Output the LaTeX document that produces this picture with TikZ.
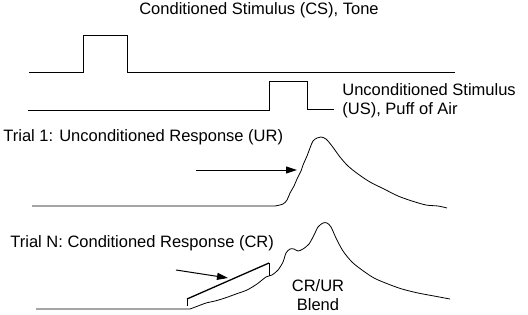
\documentclass[tikz,border=0pt]{standalone}
\usepackage{fontspec}
\setmainfont{Liberation Sans}
\usetikzlibrary{arrows.meta}

\begin{document}
\begin{tikzpicture}[x=1pt,y=-1pt,line width=0.8pt,
  lbl/.style={inner sep=0pt,font=\fontsize{16.5}{19}\selectfont},
  pointer/.style={-{Triangle[length=11pt,width=7pt]},line width=1pt}]
  \useasboundingbox (0,0) rectangle (528,314);
  % stimulus traces
  \node[lbl] (cstitle) at (259,10) {Conditioned Stimulus (CS), Tone};
  \draw (29,72) -- (83,72) -- (83,35) -- (127,35) -- (127,72) -- (455,72);
  \draw (28,110) -- (269,110) -- (269,81) -- (307,81) -- (307,109) -- (334,109);
  \node[lbl,anchor=west,align=left] (ustitle) at (342,101)
    {Unconditioned Stimulus\\(US), Puff of Air};
  % trial 1
  \node[lbl,anchor=west] (trialone) at (3,137) {Trial 1: Unconditioned Response (UR)};
  \draw (32,206) -- (275,206)
    plot[smooth,tension=0.5] coordinates {(275,206) (283,204) (287,200) (290,193)
      (294,186) (297,179) (301,171) (303,165) (307,156) (310,148) (313,141)
      (317,138) (321,137) (326,139) (332,146) (340,157) (348,166) (358,174)
      (370,182) (384,189) (398,196) (412,201) (426,205) (438,206) (447,208)};
  \coordinate (aonestart) at (196,170);
  \coordinate (aoneend) at (297,170);
  \draw[pointer] (aonestart) -- (aoneend);
  % trial N
  \node[lbl,anchor=west] (trialn) at (10,243) {Trial N: Conditioned Response (CR)};
  \draw (36,309) -- (190,309)
    plot[smooth,tension=0.5] coordinates {(190,309) (198,306) (206,303) (215,301)
      (225,298) (236,294) (247,290) (257,284) (266,277) (272,275) (278,270)
      (283,262) (286,253) (290,249) (294,249) (298,251) (303,249) (309,244)
      (314,235) (318,227) (323,223) (327,223) (331,227) (336,238) (343,251)
      (352,262) (362,270) (374,278) (388,284) (402,289) (418,293) (434,296)
      (450,299)};
  \coordinate (crlow) at (187,299);
  \coordinate (crhigh) at (269,263);
  \draw (187,306) -- (crlow);
  \draw[line width=1.3pt] (crlow) -- (crhigh);
  \draw (crhigh) -- (269,276);
  \coordinate (antail) at (176,270);
  \coordinate (anhead) at (228,278);
  \draw[pointer] (antail) -- (anhead);
  \node[lbl,align=center,font=\fontsize{16.5}{18.5}\selectfont] (blend) at (318,295) {CR/UR\\Blend};
\end{tikzpicture}
\end{document}
